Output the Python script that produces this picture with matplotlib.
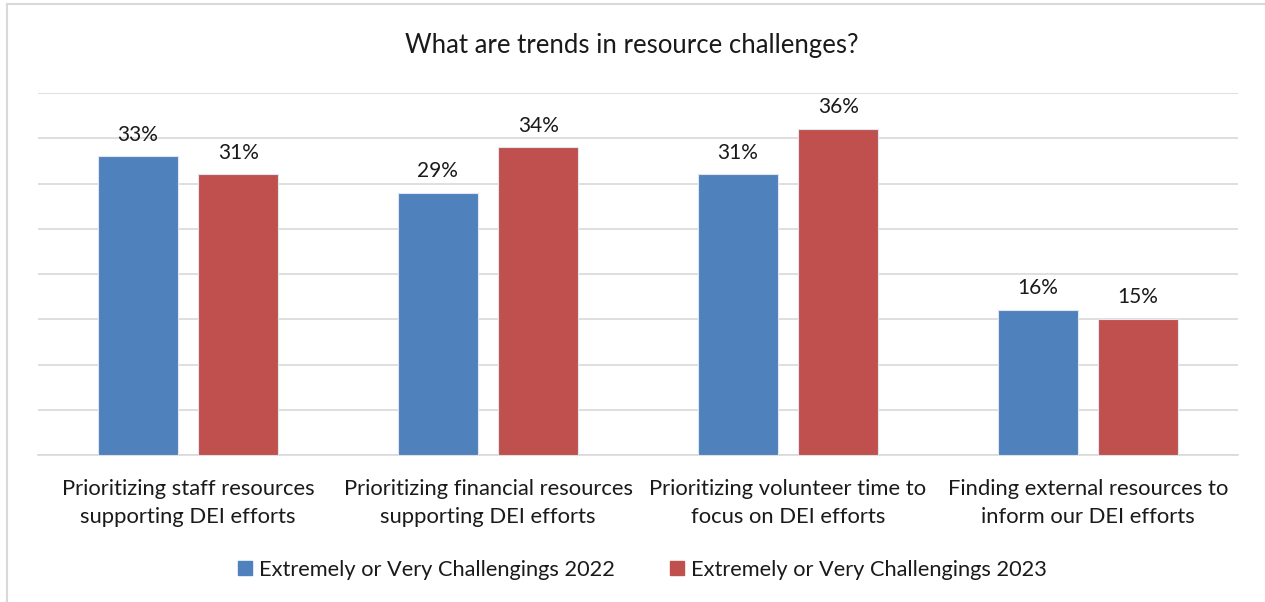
import matplotlib
matplotlib.use("Agg")
import matplotlib.pyplot as plt
from matplotlib.lines import Line2D
import numpy as np

plt.rcParams['font.family'] = ['Lato', 'DejaVu Sans']

categories = [
    "Prioritizing staff resources\nsupporting DEI efforts",
    "Prioritizing financial resources\nsupporting DEI efforts",
    "Prioritizing volunteer time to\nfocus on DEI efforts",
    "Finding external resources to\ninform our DEI efforts",
]
series_names = ["Extremely or Very Challengings 2022", "Extremely or Very Challengings 2023"]
values_2022 = [33, 29, 31, 16]
values_2023 = [31, 34, 36, 15]
colors = ["#4F81BD", "#C0504D"]

W, H = 1265, 602
fig = plt.figure(figsize=(W / 100, H / 100), dpi=100)

# plot area in pixel terms
left, right, top, bottom = 38, 1238, 93, 455
ax = fig.add_axes([left / W, 1 - bottom / H, (right - left) / W, (bottom - top) / H])

x = np.arange(len(categories))
bw = 0.267
off = 0.167
for vals, col, sgn in [(values_2022, colors[0], -1), (values_2023, colors[1], 1)]:
    bars = ax.bar(x + sgn * off, vals, width=bw, color=col, edgecolor="#dfe6ef", linewidth=0.8, zorder=3)
    for b, v in zip(bars, vals):
        ax.text(b.get_x() + b.get_width() / 2, v + 1.3, f"{v}%", ha="center", va="bottom",
                fontsize=15, color="#1a1a1a")

ax.set_xlim(-0.5, len(categories) - 0.5)
ax.set_ylim(0, 40)
ax.set_yticks(np.arange(0, 41, 5))
ax.yaxis.grid(True, color="#d9d9d9", linewidth=1.2, zorder=0)
ax.tick_params(axis="y", left=False, labelleft=False)
ax.tick_params(axis="x", bottom=False, length=0, pad=17)
ax.set_xticks(x)
ax.set_xticklabels(categories, fontsize=15.8, color="#1a1a1a", linespacing=1.5)
for s in ["left", "right", "top"]:
    ax.spines[s].set_visible(False)
ax.spines["bottom"].set_color("#d9d9d9")
ax.spines["bottom"].set_linewidth(1.2)

fig.text(632 / W, 1 - 45 / H, "What are trends in resource challenges?", ha="center", va="center",
         fontsize=18.5, color="#1a1a1a")

handles = [Line2D([0], [0], marker="s", linestyle="none", markersize=9.4,
                  markerfacecolor=c, markeredgecolor=c) for c in colors]
fig.legend(handles, series_names, loc="center", bbox_to_anchor=(642 / W, 1 - 570 / H),
           ncol=2, frameon=False, fontsize=15.7, handletextpad=0.3, columnspacing=2.5,
           handlelength=0.7, labelcolor="#1a1a1a")

# outer frame: left and top edges
fig.add_artist(Line2D([7 / W, 7 / W], [0, 1 - 4 / H], color="#d9d9d9", linewidth=1.5))
fig.add_artist(Line2D([7 / W, 1], [1 - 4 / H, 1 - 4 / H], color="#d9d9d9", linewidth=1.5))

fig.savefig("out.png", dpi=100)
